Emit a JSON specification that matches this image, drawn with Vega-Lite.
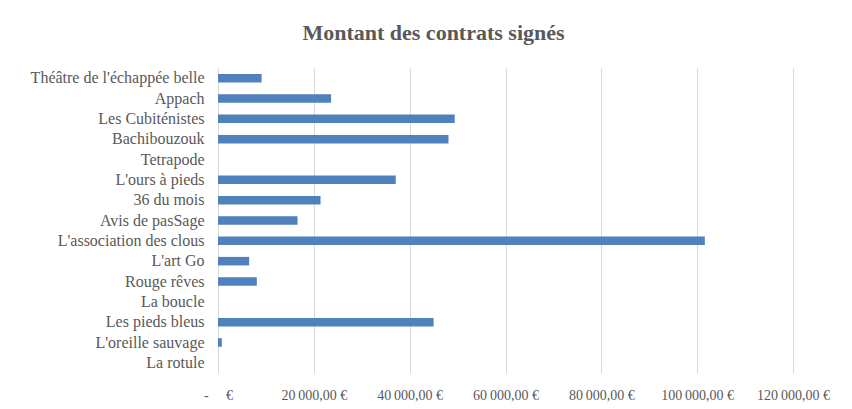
{
  "$schema": "https://vega.github.io/schema/vega-lite/v6.json",
  "autosize": "none",
  "width": 575,
  "height": 305,
  "padding": {"left": 218, "top": 68, "right": 59, "bottom": 36},
  "background": "white",
  "title": {
    "text": "Montant des contrats signés",
    "font": "Liberation Serif",
    "fontSize": 22,
    "fontWeight": "bold",
    "color": "#595959",
    "anchor": "middle",
    "dx": -72,
    "offset": 23
  },
  "data": {
    "values": [
      {"nom": "Théâtre de l'échappée belle", "montant": 9100},
      {"nom": "Appach", "montant": 23600},
      {"nom": "Les Cubiténistes", "montant": 49400},
      {"nom": "Bachibouzouk", "montant": 48100},
      {"nom": "Tetrapode", "montant": 0},
      {"nom": "L'ours à pieds", "montant": 37100},
      {"nom": "36 du mois", "montant": 21400},
      {"nom": "Avis de pasSage", "montant": 16600},
      {"nom": "L'association des clous", "montant": 101600},
      {"nom": "L'art Go", "montant": 6500},
      {"nom": "Rouge rêves", "montant": 8100},
      {"nom": "La boucle", "montant": 0},
      {"nom": "Les pieds bleus", "montant": 45000},
      {"nom": "L'oreille sauvage", "montant": 800},
      {"nom": "La rotule", "montant": 0}
    ]
  },
  "mark": {"type": "bar", "color": "#4F81BD"},
  "encoding": {
    "y": {
      "field": "nom",
      "type": "nominal",
      "sort": null,
      "title": null,
      "scale": {"paddingInner": 0.58, "paddingOuter": 0.29},
      "axis": {
        "domain": false,
        "ticks": false,
        "labelFont": "Liberation Serif",
        "labelFontSize": 16,
        "labelColor": "#595959",
        "labelPadding": 14,
        "labelOverlap": false,
        "grid": false
      }
    },
    "x": {
      "field": "montant",
      "type": "quantitative",
      "title": null,
      "scale": {"domain": [0, 120000], "nice": false},
      "axis": {
        "values": [0, 20000, 40000, 60000, 80000, 100000, 120000],
        "domain": false,
        "ticks": false,
        "grid": true,
        "gridColor": "#d9d9d9",
        "labelFont": "Liberation Serif",
        "labelFontSize": 14,
        "labelColor": "#595959",
        "labelPadding": 15,
        "labelOverlap": false,
        "labelFlush": false,
        "labelExpr": "datum.value == 0 ? '-\u00a0\u00a0\u00a0\u00a0\u00a0€' : replace(replace(format(datum.value, ',.2f'), regexp(',', 'g'), '\u202f'), '.', ',') + '\u00a0€'"
      }
    }
  },
  "config": {"view": {"stroke": null}}
}
